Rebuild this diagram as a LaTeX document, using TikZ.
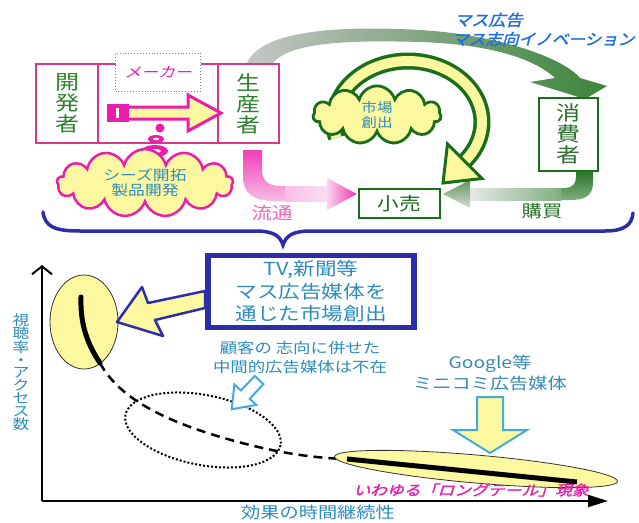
\documentclass[tikz,border=0pt]{standalone}
\usepackage{fontspec}
\usepackage{graphicx}
\setmainfont{Noto Sans CJK JP}
\newfontfamily\jpit[FakeSlant=0.25]{Noto Sans CJK JP}
\newfontfamily\jpbi[FakeSlant=0.25,FakeBold=1.6]{Noto Sans CJK JP}
\usetikzlibrary{shapes.symbols,arrows.meta}
\definecolor{teal1}{RGB}{45,140,190}
\definecolor{gtext}{RGB}{45,130,45}
\definecolor{dgreen}{RGB}{25,110,25}
\definecolor{pinkbox}{RGB}{215,55,135}
\definecolor{mag}{RGB}{235,30,170}
\definecolor{yel}{RGB}{252,248,160}
\definecolor{bblue}{RGB}{45,45,170}
\definecolor{lblue}{RGB}{70,170,225}
\definecolor{tblue}{RGB}{30,110,225}
\newcommand\sx[1]{\scalebox{1.2}[1]{#1}}
\begin{document}
\begin{tikzpicture}[x=1pt,y=-1pt,
  pbox/.style={draw=pinkbox,line width=2pt,minimum height=79pt,inner sep=0pt},
  gbox/.style={draw=dgreen,line width=2pt,inner sep=0pt,fill=white},
  vtext/.style={align=center,font=\fontsize{20}{21}\selectfont},
  yarrow/.style={fill=yel,line width=2.5pt,line join=round}]
\useasboundingbox[fill=white] (0,0) rectangle (639,522);

% ---------- grey / green big arc
\shade[left color=gray!45, middle color=gray!5, right color=dgreen!85]
  (247,63) .. controls (262,28) and (350,26) .. (420,30)
  .. controls (490,34) and (560,55) .. (580,78) -- (607,86) -- (585,99) -- (530,82) -- (555,78)
  .. controls (530,55) and (480,44) .. (420,42)
  .. controls (350,40) and (290,42) .. (273,63) -- cycle;

% ---------- title
\node[anchor=west,text=tblue,font=\jpbi\fontsize{15.5}{16}\selectfont,inner sep=0] (t1) at (454,20) {\scalebox{1.1}[1]{マス広告}};
\node[anchor=west,text=tblue,font=\jpbi\fontsize{15.5}{16}\selectfont,inner sep=0] (t2) at (452,39) {\scalebox{1.07}[1]{マス志向イノベーション}};

% ---------- maker boxes
\node[pbox,minimum width=62pt,text=gtext,vtext] (dev) at (67,103.5) {\sx{開}\\\sx{発}\\\sx{者}};
\node[pbox,minimum width=120pt] (mid) at (158,103.5) {};
\node[pbox,minimum width=61pt,text=gtext,vtext] (prod) at (248,103.5) {\sx{生}\\\sx{産}\\\sx{者}};
\node[draw=gray,dotted,line width=0.9pt,fill=white,minimum width=85pt,minimum height=38pt,
      text=mag,font=\jpit\fontsize{14}{14}\selectfont] (maker) at (158,72) {\sx{メーカー}};

% pink arrow
\filldraw[fill=yel,draw=mag,line width=3pt,line join=miter]
  (125,107) -- (188,107) -- (188,95) -- (221,113) -- (188,131) -- (188,119) -- (125,119) -- cycle;
\fill[mag] (107,104) rectangle (129,122);
\fill[white] (116,108) rectangle (119,118);

% pink dots
\fill[mag] (160,128) circle (4.5);
\fill[mag] (156,139) ellipse [x radius=8,y radius=4];
\fill[white] (156,139) ellipse [x radius=3,y radius=1.3];
\fill[mag] (155,151) ellipse [x radius=13,y radius=6];
\fill[white] (155,151) ellipse [x radius=6,y radius=2];

% pink cloud
\node[cloud,cloud puffs=13,aspect=4,minimum width=176pt,minimum height=46pt,draw=mag,line width=2.5pt,
      fill=yel,align=center,text=teal1,font=\fontsize{14}{15}\selectfont,inner sep=0] (seeds) at (145,183)
  {\sx{シーズ開拓}\\\sx{製品開発}};

% ---------- consumer / retail
\node[gbox,minimum width=59pt,minimum height=73pt,text=dgreen!80!gray,vtext] (cons) at (568,134) {\sx{消}\\\sx{費}\\\sx{者}};
\node[gbox,minimum width=81pt,minimum height=29pt,text=dgreen,font=\fontsize{18}{18}\selectfont] (ret) at (399.5,203.5) {\sx{小売}};

% pink distribution arrow (from prod to ret)
\shade[top color=mag!85, bottom color=mag!30]
  (243,150) -- (243,176) .. controls (243,194) and (254,201) .. (275,201) -- (286,201) -- (286,186)
  -- (280,186) .. controls (268,186) and (262,180) .. (262,170) -- (262,150) -- cycle;
\shade[left color=mag!28, right color=mag!15] (285,186) rectangle (328,201);
\shade[left color=mag!20, right color=mag!90] (327,178) -- (357,194) -- (327,210) -- cycle;
\node[text=mag!70,font=\fontsize{17}{17}\selectfont] (flow) at (272,213) {\sx{流通}};

% green purchase arrow (from cons to ret)
\shade[top color=dgreen!95, bottom color=dgreen!55]
  (593,171) -- (593,182) .. controls (593,196) and (585,200) .. (570,200) -- (560,200) -- (560,188)
  -- (565,188) .. controls (572,188) and (576,184) .. (576,177) -- (576,171) -- cycle;
\shade[left color=gray!18, right color=dgreen!55] (469,188) rectangle (561,200);
\shade[top color=dgreen!70, bottom color=gray!30] (470,180) -- (443,194) -- (470,208) -- cycle;
\node[text=dgreen!80!gray,font=\fontsize{17}{17}\selectfont] (buy) at (542,211) {\sx{購買}};

% circular arrow
\draw[dgreen,line width=17pt] (336.5,137.8) arc[start angle=165,end angle=400,x radius=74,y radius=61];
\draw[yel,line width=10pt] (336.5,137.8) arc[start angle=165,end angle=400,x radius=74,y radius=61];
\filldraw[fill=yel,draw=dgreen,line width=3pt,line join=miter] (482,178.5) -- (443,183) -- (447.5,144) -- cycle;

% market creation cloud
\node[cloud,cloud puffs=11,aspect=2.6,minimum width=128pt,minimum height=52pt,draw=dgreen,line width=2.8pt,
      fill=yel,align=center,text=teal1,font=\fontsize{13}{15}\selectfont,inner sep=0] (mkt) at (377,115)
  {\sx{市場}\\\sx{創出}};

% brace
\draw[bblue,line width=3.5pt,line cap=round]
  (43,212) .. controls (45,227) and (55,231) .. (80,231) -- (255,231)
  .. controls (274,231) and (280,236) .. (283,245) .. controls (286,236) and (292,231) .. (311,231)
  -- (605,231) .. controls (624,231) and (632,225) .. (633,213);

% ---------- chart
\coordinate (O) at (42,501);
\coordinate (Ytop) at (42,265);
\coordinate (Xend) at (608,501);
\draw[line width=2pt,-{Straight Barb[length=8pt,width=20pt,line width=2pt]}] (O) -- (Ytop);
\draw[line width=2pt,-{Triangle[length=20pt,width=12pt]}] (O) -- (Xend);

\node[text=teal1,align=center,font=\fontsize{14}{12.8}\selectfont,inner sep=0] (ylab) at (21,372)
  {\sx{視}\\\sx{聴}\\\sx{率}\\\sx{・}\\\sx{ア}\\\sx{ク}\\\sx{セ}\\\sx{ス}\\\sx{数}};
\node[text=teal1,font=\fontsize{16}{16}\selectfont,inner sep=0] (xlab) at (318,512) {\sx{効果の時間継続性}};

% left ellipse
\filldraw[fill=yel,draw=black!80,line width=0.8pt] (84,322) ellipse [x radius=34,y radius=47];
\draw[line width=5pt,line cap=round] (81,297) .. controls (80,325) and (88,345) .. (100,363);

% dotted ellipse
\draw[dotted,line width=2pt,rotate around={-11:(203,430)}] (203,430) ellipse [x radius=79,y radius=35];

% dashed middle
\draw[line width=2.5pt,dash pattern=on 9pt off 6pt] (100,363) .. controls (120,400) and (170,425) .. (250,445)
  .. controls (290,455) and (320,458) .. (345,459);

% right ellipse
\filldraw[fill=yel,draw=black!80,line width=0.8pt,rotate around={-5:(476,469)}] (476,469) ellipse [x radius=142,y radius=14];
\draw[line width=5pt] (347,459) -- (577,482);
\node[text=mag,font=\jpbi\fontsize{14}{14}\selectfont,inner sep=0] (lt) at (471,490) {\sx{いわゆる「ロングテール」現象}};

% TV box
\node[draw=bblue,line width=5.5pt,minimum width=206pt,minimum height=72pt,align=center,text=teal1,
      font=\fontsize{18}{22.5}\selectfont] (tv) at (311,291.5)
  {\sx{TV,新聞等}\\\sx{マス広告媒体を}\\\sx{通じた市場創出}};

% big yellow arrow to left ellipse
\filldraw[yarrow,draw=bblue] (205,291) -- (148,303) -- (142,287) -- (117,322) -- (163,336) -- (155,320) -- (205,308) -- cycle;

% middle text + small arrow
\node[text=teal1,align=center,font=\fontsize{14.5}{19}\selectfont,inner sep=0] (midtxt) at (300,358)
  {\sx{顧客の 志向に併せた}\\\sx{中間的広告媒体は不在}};
\draw[lblue,line width=2pt,fill=white,line join=miter,shift={(259,380)},rotate=-133]
  (0,-6) -- (20,-6) -- (20,-15) -- (40,0) -- (20,15) -- (20,6) -- (0,6) -- cycle;

% Google text + down arrow
\node[text=lblue!80!black,align=center,font=\fontsize{16}{21}\selectfont,inner sep=0] (goo) at (490,373)
  {\sx{Google等}\\\sx{ミニコミ広告媒体}};
\filldraw[fill=yel,draw=lblue,line width=2pt,line join=miter]
  (477,397) -- (503,397) -- (503,430) -- (527,430) -- (490,453) -- (453,430) -- (477,430) -- cycle;
\end{tikzpicture}
\end{document}
